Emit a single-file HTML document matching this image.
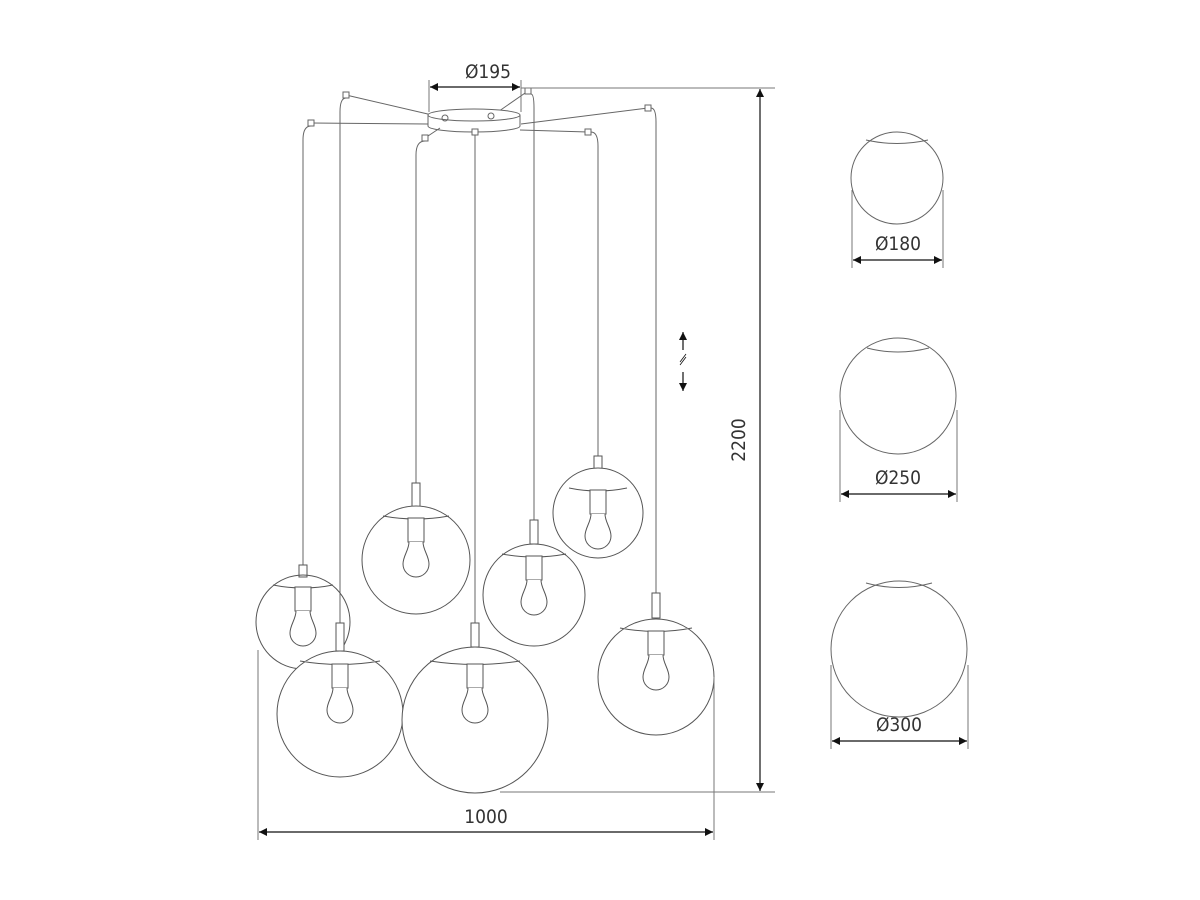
<!DOCTYPE html>
<html><head><meta charset="utf-8"><style>
html,body{margin:0;padding:0;background:#fff;}
svg{display:block}
text{font-family:"DejaVu Sans Condensed","Liberation Sans",sans-serif;font-size:19px;fill:#333}
</style></head><body>
<svg width="1200" height="900" viewBox="0 0 1200 900" xmlns="http://www.w3.org/2000/svg">
<defs>
<marker id="a" viewBox="0 0 10 10" refX="10" refY="5" markerWidth="12" markerHeight="8" markerUnits="userSpaceOnUse" orient="auto-start-reverse"><path d="M0,0 L10,5 L0,10z" fill="#111"/></marker>
<g id="bulb" fill="#fff" stroke="#555" stroke-width="1">
<rect x="-8" y="0" width="16" height="24"/>
<path d="M-7,24 C-7,32 -13,38 -13,46 A13,13 0 0 0 13,46 C13,38 7,32 7,24"/>
</g>
</defs>
<g fill="none" stroke="#666" stroke-width="1">
<path d="M346,95 L445,118 M528,91 L492,116 M648,108 L521,124 M311,123 L428,124 M425,138 L440,128 M475,132 L475,130 M588,132 L520,130"/>
<path d="M428,115 L428,126 M520,115 L520,126"/>
<ellipse cx="474" cy="115" rx="46" ry="6" fill="#fff"/>
<path d="M428,126 A46,6 0 0 0 520,126"/>
<circle cx="445" cy="118" r="3"/><circle cx="491" cy="116" r="3"/>
<g fill="#fff">
<rect x="343" y="92" width="6" height="6"/><rect x="525" y="88" width="6" height="6"/><rect x="645" y="105" width="6" height="6"/>
<rect x="308" y="120" width="6" height="6"/><rect x="422" y="135" width="6" height="6"/><rect x="472" y="129" width="6" height="6"/><rect x="585" y="129" width="6" height="6"/>
</g>
<path d="M311,126 Q303,126 303,140 L303,565"/>
<path d="M346,98 Q340,98 340,112 L340,623"/>
<path d="M425,141 Q416,141 416,155 L416,483"/>
<path d="M475,135 L475,623"/>
<path d="M531,94 Q534,94 534,108 L534,520"/>
<path d="M591,132 Q598,132 598,146 L598,456"/>
<path d="M651,108 Q656,108 656,122 L656,593"/>
</g>
<g fill="#fff" stroke="#555" stroke-width="1">
<rect x="299" y="565" width="8" height="12"/>
<circle cx="303" cy="622" r="47" fill="none"/>
<path d="M273,585 Q303,591 333,585"/>
<use href="#bulb" x="303" y="587"/>
<rect x="412" y="483" width="8" height="24"/>
<circle cx="416" cy="560" r="54"/>
<path d="M383,516 Q416,522 449,516"/>
<use href="#bulb" x="416" y="518"/>
<rect x="594" y="456" width="8" height="24"/>
<circle cx="598" cy="513" r="45"/>
<path d="M569,488 Q598,494 627,488"/>
<use href="#bulb" x="598" y="490"/>
<rect x="530" y="520" width="8" height="24"/>
<circle cx="534" cy="595" r="51"/>
<path d="M502,554 Q534,560 566,554"/>
<use href="#bulb" x="534" y="556"/>
<rect x="652" y="593" width="8" height="25"/>
<circle cx="656" cy="677" r="58"/>
<path d="M620,628 Q656,635 692,628"/>
<use href="#bulb" x="656" y="631"/>
<rect x="336" y="623" width="8" height="28"/>
<circle cx="340" cy="714" r="63"/>
<path d="M300,661 Q340,668 380,661"/>
<use href="#bulb" x="340" y="664"/>
<rect x="471" y="623" width="8" height="24"/>
<circle cx="475" cy="720" r="73"/>
<path d="M430,661 Q475,668 520,661"/>
<use href="#bulb" x="475" y="664"/>
</g>
<g fill="none" stroke="#555" stroke-width="1">
<path d="M336,651 L336,623"/>
</g>
<g fill="none" stroke="#777" stroke-width="1">
<path d="M429,80 L429,112 M521,80 L521,112"/>
<path d="M521,88 L775,88 M500,792 L775,792"/>
<path d="M258,650 L258,840 M714,677 L714,840"/>
<path d="M852,190 L852,268 M943,190 L943,268"/>
<path d="M840,410 L840,502 M957,410 L957,502"/>
<path d="M831,665 L831,749 M968,665 L968,749"/>
</g>
<g stroke="#111" stroke-width="1.2" fill="none">
<line x1="430" y1="87" x2="520" y2="87" marker-start="url(#a)" marker-end="url(#a)"/>
<line x1="760" y1="89" x2="760" y2="791" marker-start="url(#a)" marker-end="url(#a)"/>
<line x1="259" y1="832" x2="713" y2="832" marker-start="url(#a)" marker-end="url(#a)"/>
<line x1="853" y1="260" x2="942" y2="260" marker-start="url(#a)" marker-end="url(#a)"/>
<line x1="841" y1="494" x2="956" y2="494" marker-start="url(#a)" marker-end="url(#a)"/>
<line x1="832" y1="741" x2="967" y2="741" marker-start="url(#a)" marker-end="url(#a)"/>
<line x1="683" y1="350" x2="683" y2="332" marker-end="url(#a)"/>
<line x1="683" y1="372" x2="683" y2="391" marker-end="url(#a)"/>
<path d="M680,365 L686,357 M680,362 L686,354" stroke-width="0.8"/>
</g>
<g fill="none" stroke="#666" stroke-width="1">
<circle cx="897" cy="178" r="46"/><path d="M866,140 Q897,147 928,140"/>
<circle cx="898" cy="396" r="58"/><path d="M867,348 Q898,356 929,348"/>
<circle cx="899" cy="649" r="68"/><path d="M866,583 Q899,592 932,583"/>
</g>
<text x="488" y="78" text-anchor="middle">Ø195</text>
<text x="486" y="823" text-anchor="middle">1000</text>
<text transform="translate(745,440) rotate(-90)" text-anchor="middle">2200</text>
<text x="898" y="250" text-anchor="middle">Ø180</text>
<text x="898" y="484" text-anchor="middle">Ø250</text>
<text x="899" y="731" text-anchor="middle">Ø300</text>
</svg>
</body></html>
